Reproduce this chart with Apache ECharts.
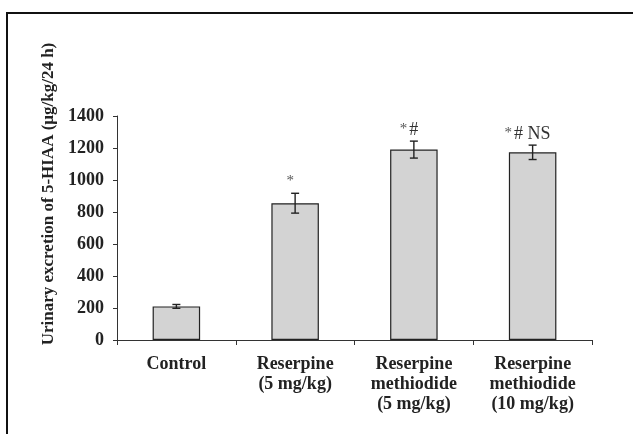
<!DOCTYPE html>
<html><head><meta charset="utf-8">
<script src="https://cdn.jsdelivr.net/npm/echarts@6/dist/echarts.min.js"></script>
<style>html,body{margin:0;padding:0;background:#fff}#c{width:633px;height:434px}</style>
</head><body><div id="c"></div>
<script>
const categories = ['Control', 'Reserpine\n(5 mg/kg)', 'Reserpine\nmethiodide\n(5 mg/kg)', 'Reserpine\nmethiodide\n(10 mg/kg)'];
const values = [210, 855, 1190, 1173];
const errors = [12, 62, 53, 45];
const marks = ['', '*', '*#', '*# NS'];
const yTicks = [0, 200, 400, 600, 800, 1000, 1200, 1400];

const serif = '"Liberation Serif", "DejaVu Serif", serif';
const starFont = '15px ' + serif;
const markFont = '18px ' + serif;
const mctx = document.createElement('canvas').getContext('2d');
function tw(t, f) { mctx.font = f; return mctx.measureText(t).width; }

const chart = echarts.init(document.getElementById('c'));
chart.setOption({
  animation: false,
  grid: {left: 117, right: 41, top: 116, bottom: 94},
  graphic: [
    {type: 'rect', shape: {x: 7, y: 13, width: 700, height: 500}, style: {fill: 'none', stroke: '#111', lineWidth: 2}, silent: true},
    {type: 'text', x: 49, y: 194, rotation: Math.PI / 2,
     style: {text: 'Urinary excretion of 5-HIAA (μg/kg/24 h)', font: 'bold 17px ' + serif, fill: '#222', align: 'center', verticalAlign: 'middle'}}
  ],
  xAxis: {
    type: 'category', data: categories,
    axisLine: {lineStyle: {color: '#333', width: 1}},
    axisTick: {show: true, length: 5, lineStyle: {color: '#333'}},
    axisLabel: {fontFamily: serif, fontWeight: 'bold', fontSize: 18, color: '#222', lineHeight: 20, margin: 14, interval: 0}
  },
  yAxis: {
    type: 'value', min: 0, max: 1400, interval: 200,
    axisLine: {show: true, lineStyle: {color: '#333', width: 1}},
    axisTick: {show: true, length: 4, lineStyle: {color: '#333'}},
    splitLine: {show: false},
    axisLabel: {fontFamily: serif, fontWeight: 'bold', fontSize: 18, color: '#222', margin: 13,
      formatter: v => yTicks.includes(v) ? String(v) : ''}
  },
  series: [
    {type: 'bar', data: values, barWidth: '40%',
     itemStyle: {color: '#d3d3d3', borderColor: '#222', borderWidth: 1.2}},
    {type: 'custom', data: values.map((v, i) => [i, v, errors[i]]),
     z: 10,
     renderItem: function (params, api) {
       const i = api.value(0), v = api.value(1), e = api.value(2);
       const top = api.coord([i, v + e]);
       const bot = api.coord([i, v - e]);
       const cap = 4;
       const st = {stroke: '#222', lineWidth: 1.4};
       const children = [
         {type: 'line', shape: {x1: top[0], y1: top[1], x2: bot[0], y2: bot[1]}, style: st},
         {type: 'line', shape: {x1: top[0] - cap, y1: top[1], x2: top[0] + cap, y2: top[1]}, style: st},
         {type: 'line', shape: {x1: bot[0] - cap, y1: bot[1], x2: bot[0] + cap, y2: bot[1]}, style: st}
       ];
       const m = marks[params.dataIndex];
       if (m) {
         const rest = m.slice(1);
         const wA = tw('*', starFont);
         const gap = rest ? 2 : 0;
         const wR = rest ? tw(rest, markFont) : 0;
         const W = wA + gap + wR;
         const x0 = top[0] - 5 - W / 2;
         children.push({type: 'text', x: x0, y: top[1] - 12,
           style: {text: '*', font: starFont, fill: '#555', align: 'left', verticalAlign: 'middle'}});
         if (rest) {
           children.push({type: 'text', x: x0 + wA + gap, y: top[1] - 11,
             style: {text: rest, font: markFont, fill: '#333', align: 'left', verticalAlign: 'middle'}});
         }
       }
       return {type: 'group', children};
     }}
  ]
});
</script></body></html>
